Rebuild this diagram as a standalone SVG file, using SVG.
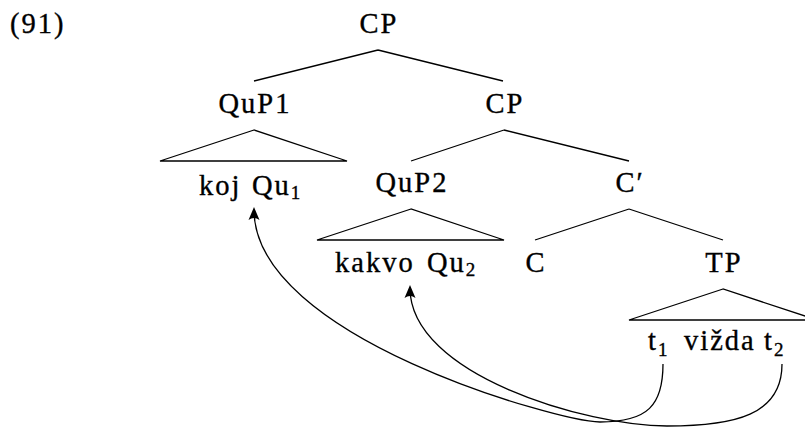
<svg xmlns="http://www.w3.org/2000/svg" width="805" height="427" viewBox="0 0 805 427">
<style>
text{font-family:"Liberation Serif","Times New Roman",serif;font-size:28.5px;fill:#000;stroke:#000;stroke-width:0.35;letter-spacing:2px}
.m{text-anchor:middle}
.sub{font-size:19px;letter-spacing:0}
.br{fill:none;stroke:#000;stroke-width:1.3}
.mv{fill:none;stroke:#000;stroke-width:1.3}
</style>
<defs>
<marker id="ah" markerUnits="userSpaceOnUse" markerWidth="16" markerHeight="14" viewBox="-1 -7 16 14" refX="10" refY="0" orient="auto">
<path d="M13,0 L0,-5.5 Q4,0 0,5.5 Z" fill="#000"/>
</marker>
</defs>
<rect width="805" height="427" fill="#fff"/>
<text id="exnum" x="10" y="33">(91)</text>
<g id="connectors">
<path class="br" d="M378,50 L254,81 M378,50 L503,81"/>
<path class="br" d="M504,130 L411,161 M504,130 L629,161"/>
<path class="br" d="M629,209 L535,240 M629,209 L723,240"/>
<path class="mv" marker-end="url(#ah)" d="M663,364 C663,405 648,422 600,422 C560,422 254,337 254,210"/>
<path class="mv" marker-end="url(#ah)" d="M782,364 C782,415 735,426 667,426 C587,426 410,375 410,288"/>
</g>
<g id="n-cp1"><text class="m" x="379" y="33">CP</text></g>
<g id="n-qup1"><text class="m" x="255" y="113">QuP1</text>
<path class="br" d="M254,130 L160,161 L347,161 Z"/></g>
<g id="n-koj"><text x="199" y="195"><tspan>koj </tspan><tspan x="252">Qu</tspan><tspan class="sub" dy="4">1</tspan></text></g>
<g id="n-cp2"><text class="m" x="505" y="113">CP</text></g>
<g id="n-qup2"><text class="m" x="412" y="192">QuP2</text>
<path class="br" d="M411,209 L317,240 L504,240 Z"/></g>
<g id="n-kakvo"><text x="335" y="272"><tspan>kakvo </tspan><tspan x="427">Qu</tspan><tspan class="sub" dy="4">2</tspan></text></g>
<g id="n-cbar"><text class="m" x="630" y="192">C′</text></g>
<g id="n-c"><text class="m" x="536" y="272">C</text></g>
<g id="n-tp"><text class="m" x="724" y="272">TP</text>
<path class="br" d="M723,289 L629,320 L817,320 Z"/></g>
<g id="n-tvizda"><text x="648" y="350"><tspan>t</tspan><tspan class="sub" dy="6">1</tspan> <tspan x="684" dy="-6">vižda </tspan><tspan x="764">t</tspan><tspan class="sub" dy="6">2</tspan></text></g>
</svg>
